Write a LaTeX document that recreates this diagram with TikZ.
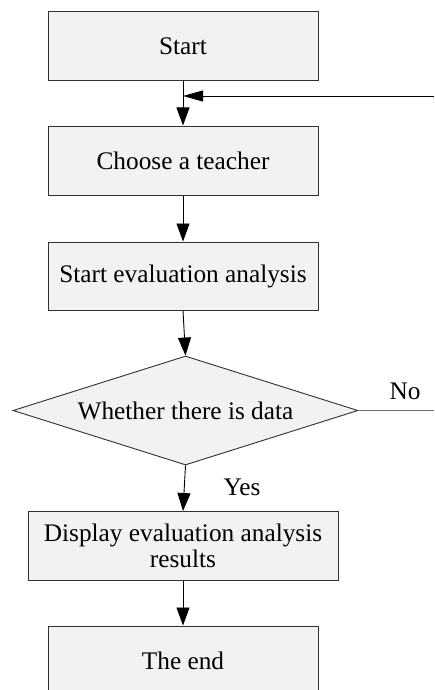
\documentclass[tikz,border=0pt]{standalone}
\usepackage{fontspec}
\setmainfont{Liberation Serif}
\usetikzlibrary{arrows.meta,shapes.geometric}
\definecolor{boxfill}{HTML}{F2F2F2}
\definecolor{boxline}{HTML}{303030}
\definecolor{noline}{HTML}{707070}
\tikzset{
  procbox/.style={draw=boxline, line width=1pt, fill=boxfill, rectangle, inner sep=0pt,
    minimum width=270pt, minimum height=69pt, align=center,
    font=\fontsize{25.3}{26}\selectfont},
  decbox/.style={draw=boxline, line width=0.9pt, fill=boxfill, diamond, inner sep=0pt,
    shape aspect=3.17, minimum width=345pt, minimum height=109pt,
    font=\fontsize{25.3}{26}\selectfont},
  flow/.style={draw=black, line width=0.9pt, -{Triangle[length=18pt,width=13pt]}},
  backflow/.style={draw=black, line width=0.9pt, -{Triangle[length=20pt,width=11pt]}},
  lbl/.style={font=\fontsize{25.3}{26}\selectfont, inner sep=0pt}
}
\begin{document}
\begin{tikzpicture}[x=1pt,y=-1pt]
\useasboundingbox (0,0) rectangle (434,690);
\node[procbox] (start) at (183,46.5) {Start};
\node[procbox] (choose) at (183,160.5) {Choose a teacher};
\node[procbox, minimum height=68pt] (eval) at (183,276) {Start evaluation analysis};
\node[decbox] (dia) at (185.5,410.5) {Whether there is data};
\node[procbox, minimum width=310pt] (disp) at (183,546) {Display evaluation analysis\\results};
\node[procbox] (theend) at (183,660.5) {The end};
\node[lbl] (no) at (405,391) {No};
\node[lbl] (yes) at (242,487) {Yes};
\coordinate (backin) at (434,96);
\coordinate (join) at (183,96);
\coordinate (noend) at (434,410.5);
\draw[flow] (start.south) -- (choose.north);
\draw[backflow] (backin) -- (join);
\draw[flow] (choose.south) -- (eval.north);
\draw[flow] (eval.south) -- (dia.north);
\draw[flow] (dia.south) -- (disp.north);
\draw[flow] (disp.south) -- (theend.north);
\draw[draw=noline, line width=1pt] (dia.east) -- (noend);
\end{tikzpicture}
\end{document}
